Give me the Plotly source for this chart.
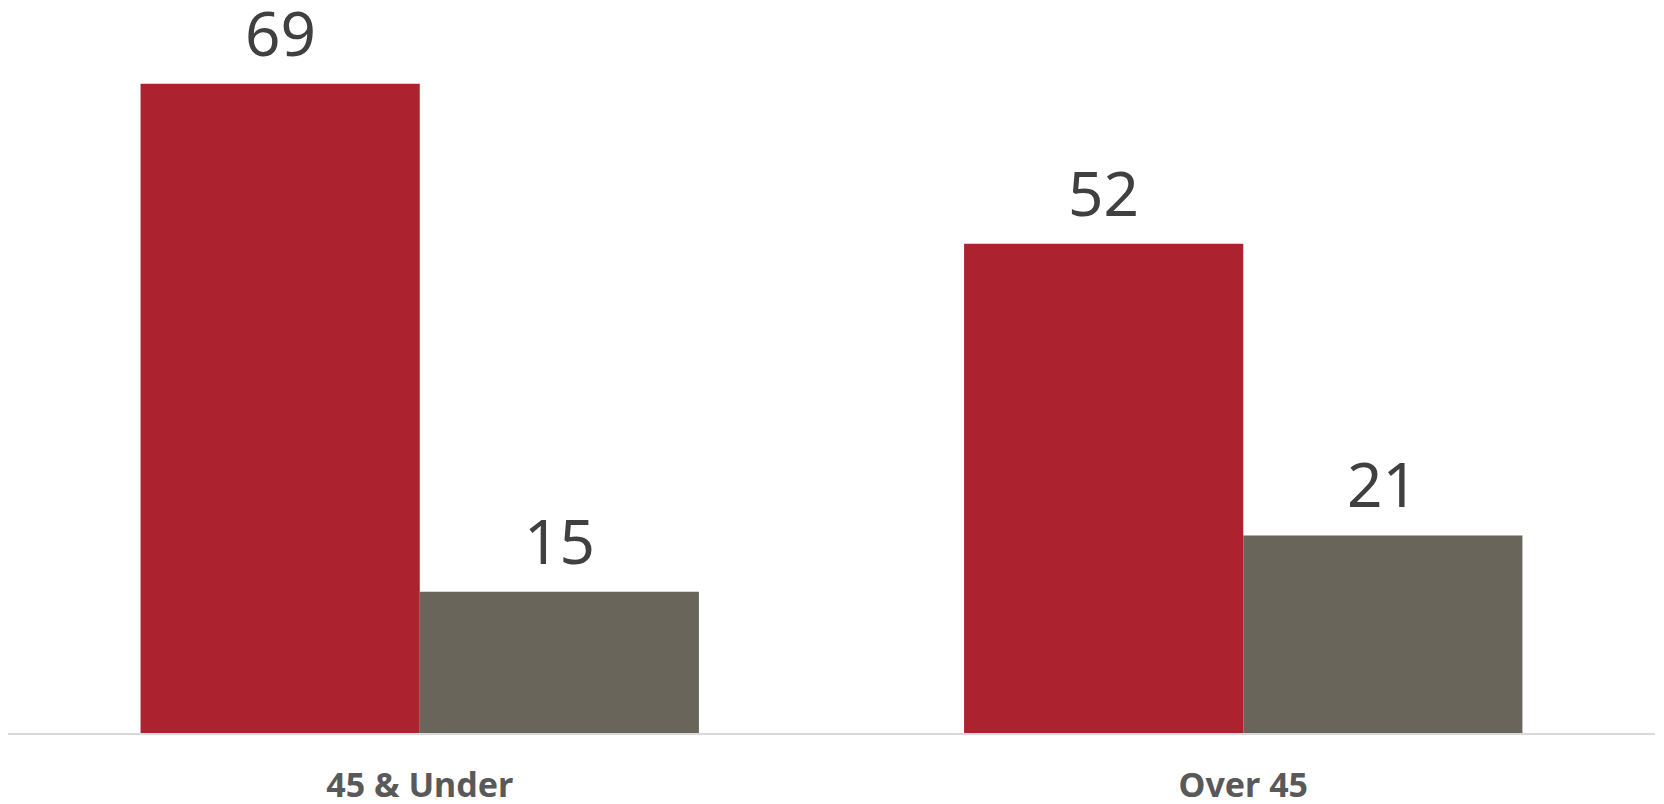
import plotly.graph_objects as go

categories = ["45 & Under", "Over 45"]
series_a = [69, 52]
series_b = [15, 21]
series_names = ["Series 1", "Series 2"]
colors = ["#AD222F", "#69655A"]

# page body has an 8px offset; compensate
W, H = 1664, 804
L, R, T, B = 0, 17, 0, 79
BARGAP = 0.322
PW = W - L - R
bar_w = PW / len(categories) * (1 - BARGAP) / 2

fig = go.Figure()
annotations = []
for k, (vals, name, col) in enumerate(zip([series_a, series_b], series_names, colors)):
    fig.add_trace(go.Bar(x=categories, y=vals, name=name, marker_color=col,
                         marker_line_width=0))
    shift = (k - 0.5) * bar_w
    for c, v in zip(categories, vals):
        annotations.append(dict(x=c, y=v, text=str(v), showarrow=False, xref="x", yref="y",
                                xshift=shift, yshift=52, yanchor="middle", xanchor="center",
                                font=dict(size=62, color="#404040", family="Noto Sans")))

fig.update_layout(
    width=W, height=H,
    margin=dict(l=L, r=R, t=T, b=B, autoexpand=False),
    paper_bgcolor="white", plot_bgcolor="rgba(0,0,0,0)",
    barmode="group", bargap=BARGAP, bargroupgap=0,
    showlegend=False,
    annotations=annotations,
    xaxis=dict(showline=True, linecolor="#D9D9D9", linewidth=2, showgrid=False, zeroline=False,
               ticks="", ticklabelstandoff=21, automargin=False,
               tickfont=dict(size=34, color="#595959", family="Noto Sans", weight="bold")),
    yaxis=dict(range=[0, 77.05], visible=False, showgrid=False, zeroline=False, automargin=False),
)

fig.write_html("out.html")
